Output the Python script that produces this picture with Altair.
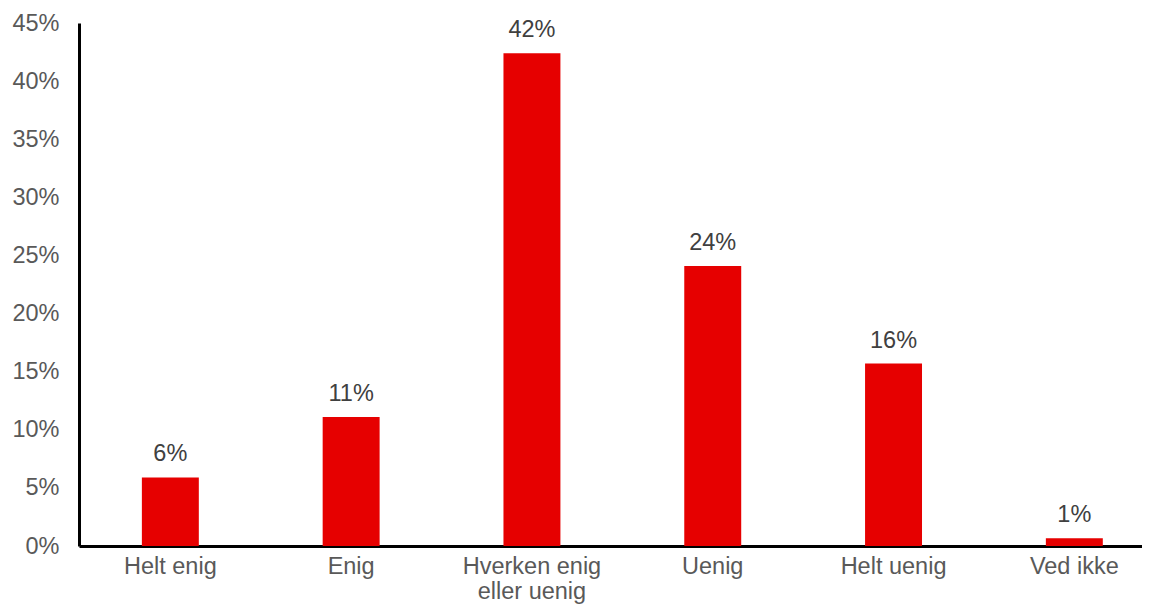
import altair as alt
import pandas as pd

categories = ["Helt enig", "Enig", "Hverken enig|eller uenig", "Uenig", "Helt uenig", "Ved ikke"]
values = [0.059, 0.111, 0.424, 0.241, 0.157, 0.0066]
y_ticks = [0, 0.05, 0.10, 0.15, 0.20, 0.25, 0.30, 0.35, 0.40, 0.45]

df = pd.DataFrame({"cat": categories, "val": values})

FONT = "Liberation Sans"
FS = 23.5

x_enc = alt.X(
    "cat:N",
    sort=categories,
    title=None,
    scale=alt.Scale(paddingInner=0.685, paddingOuter=0.28225, align=0.616),
    axis=alt.Axis(
        labelAngle=0,
        labelExpr="split(datum.label, '|')",
        labelFont=FONT,
        labelFontSize=FS,
        labelColor="#595959",
        labelPadding=8,
        labelLineHeight=25,
        labelBaseline="top",
        ticks=False,
        tickSize=0,
        domainColor="black",
        domainWidth=3,
        grid=False,
    ),
)

y_enc = alt.Y(
    "val:Q",
    title=None,
    scale=alt.Scale(domain=[0, 0.45], nice=False, zero=True),
    axis=alt.Axis(
        values=y_ticks,
        format=".0%",
        labelFont=FONT,
        labelFontSize=FS,
        labelColor="#595959",
        labelPadding=20,
        ticks=False,
        tickSize=0,
        domainColor="black",
        domainWidth=3,
        grid=False,
    ),
)

bars = alt.Chart(df).mark_bar(color="#E60000").encode(x=x_enc, y=y_enc)

labels = alt.Chart(df).mark_text(
    font=FONT, fontSize=FS, color="#404040", baseline="alphabetic", dy=-16
).encode(
    x=alt.X("cat:N", sort=categories),
    y=alt.Y("val:Q"),
    text=alt.Text("val:Q", format=".0%"),
)

chart = (
    alt.layer(bars, labels)
    .properties(
        width=1063,
        height=523,
        autosize=alt.AutoSizeParams(type="none"),
        padding={"left": 71, "top": 15, "right": 0, "bottom": 60},
        background="white",
    )
    .configure_view(stroke=None)
)

chart.save("out.html", embed_options={"renderer": "svg", "actions": False})
